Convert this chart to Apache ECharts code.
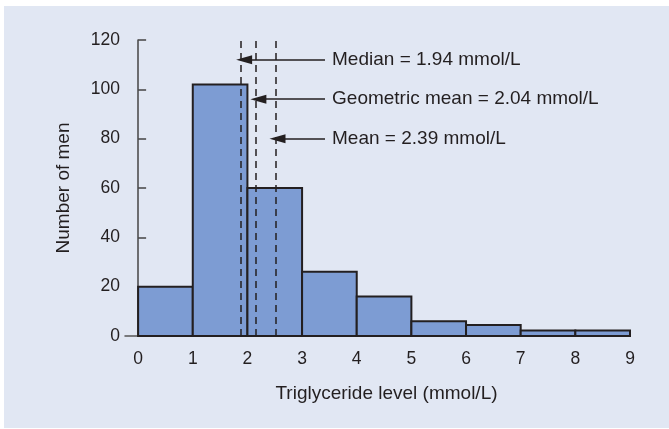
<!DOCTYPE html>
<html>
<head>
<meta charset="utf-8">
<script src="https://cdn.jsdelivr.net/npm/echarts@6/dist/echarts.min.js"></script>
<style>
  html, body { margin: 0; padding: 0; background: #ffffff; }
  #chart { width: 669px; height: 429px; }
</style>
</head>
<body>
<div id="chart"></div>
<script>
// histogram bins (mmol/L) and counts
var binStart = [0, 1, 2, 3, 4, 5, 6, 7, 8];
var binEnd = [1, 2, 3, 4, 5, 6, 7, 8, 9];
var counts = [20, 102, 60, 26, 16, 6, 4.5, 2.2, 2.2];
var xTicks = [0, 1, 2, 3, 4, 5, 6, 7, 8, 9];

// dashed reference lines (as drawn)
var refX = [1.88, 2.15, 2.52];
// arrows: label, level on y, tip x, tail x
var arrowText = ['Median = 1.94 mmol/L', 'Geometric mean = 2.04 mmol/L', 'Mean = 2.39 mmol/L'];
var arrowY = [112, 96, 80];
var arrowTip = [1.94, 2.2, 2.55];
var arrowTail = [3.42, 3.42, 3.42];

var font = "'Liberation Sans', Arial, sans-serif";
var ink = '#231f20';

var myChart = echarts.init(document.getElementById('chart'));

var barData = binStart.map(function (s, i) { return [s, binEnd[i], counts[i]]; });

var arrowLines = arrowText.map(function (t, i) {
    return [
        { coord: [arrowTail[i], arrowY[i]], name: t },
        { coord: [arrowTip[i], arrowY[i]] }
    ];
});

var option = {
    animation: false,
    graphic: [{
        type: 'rect', left: 4, top: 6, z: -10,
        shape: { width: 665, height: 422 },
        style: { fill: '#e1e7f3' }
    }],
    grid: { left: 125, right: 39, top: 40, bottom: 93 },
    xAxis: {
        type: 'value',
        min: -0.24,
        max: 9,
        name: 'Triglyceride level (mmol/L)',
        nameLocation: 'middle',
        nameGap: 48,
        nameTextStyle: { color: ink, fontFamily: font, fontSize: 19, padding: [0, 0, 0, 18] },
        axisLine: { show: true, lineStyle: { color: '#555555', width: 1.5 } },
        axisTick: { show: false },
        splitLine: { show: false },
        axisLabel: {
            color: ink, fontFamily: font, fontSize: 17.5, margin: 14,
            customValues: xTicks
        }
    },
    yAxis: {
        type: 'value',
        min: 0,
        max: 120,
        interval: 20,
        name: 'Number of men',
        nameLocation: 'middle',
        nameGap: 52,
        nameTextStyle: { color: ink, fontFamily: font, fontSize: 19 },
        axisLine: { show: true, lineStyle: { color: '#444444', width: 1.5 } },
        axisTick: { show: true, inside: true, length: 8, lineStyle: { color: '#444444', width: 1.5 } },
        splitLine: { show: false },
        axisLabel: { color: ink, fontFamily: font, fontSize: 17.5, margin: 5 }
    },
    series: [{
        name: 'men',
        type: 'custom',
        z: 2,
        data: barData,
        renderItem: function (params, api) {
            var p0 = api.coord([api.value(0), api.value(2)]);
            var p1 = api.coord([api.value(1), 0]);
            return {
                type: 'rect',
                shape: { x: p0[0], y: p0[1], width: p1[0] - p0[0], height: p1[1] - p0[1] },
                style: { fill: '#7d9cd3', stroke: ink, lineWidth: 2 }
            };
        },
        markLine: {
            silent: true,
            symbol: 'none',
            z: 5,
            lineStyle: { color: ink, width: 1.5, type: [7, 5] },
            label: { show: false },
            data: refX.map(function (v) { return { xAxis: v }; })
        }
    }, {
        name: 'arrows',
        type: 'line',
        data: [],
        z: 6,
        markLine: {
            silent: true,
            symbol: ['none', 'triangle'],
            symbolSize: [9, 16],
            lineStyle: { color: ink, width: 1.5, type: 'solid' },
            label: {
                show: true, position: 'start', distance: 7,
                formatter: '{b}', color: ink, fontFamily: font, fontSize: 19
            },
            data: arrowLines
        }
    }]
};
myChart.setOption(option);
</script>
</body>
</html>
